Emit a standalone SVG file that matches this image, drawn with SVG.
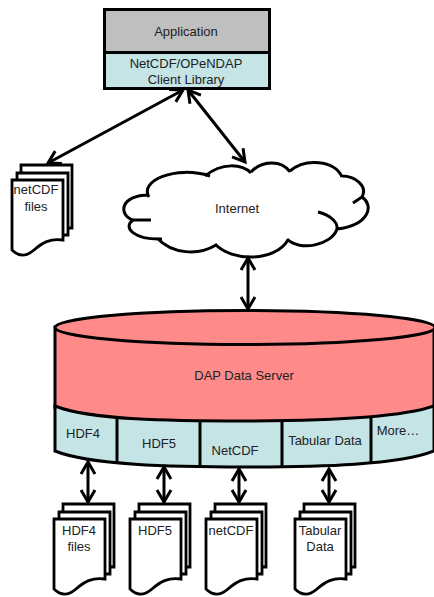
<svg xmlns="http://www.w3.org/2000/svg" width="434" height="597" viewBox="0 0 434 597">
<style>
text{font-family:"Liberation Sans",Arial,sans-serif;font-size:13px;fill:#222;text-anchor:middle}
.s{stroke:#000;stroke-width:3;fill:none}
.d{stroke:#000;stroke-width:2.800;fill:#fff}
.l{stroke:#000;stroke-width:3;fill:none;marker-start:url(#a);marker-end:url(#a)}
</style>
<defs>
<marker id="a" markerUnits="userSpaceOnUse" markerWidth="30" markerHeight="30" refX="17" refY="15" orient="auto-start-reverse" viewBox="0 0 30 30"><path d="M5 8L17 15L5 22" fill="none" stroke="#000" stroke-width="3"/></marker>
<g id="doc"><path class="d" d="M9 -15H60V48H9Z"/><path class="d" d="M5 -7H56V55H5Z"/><path class="d" d="M0 0H51V60C38 58 30 63 22 70C14 77 7 77 0 70Z"/></g>
</defs>
<rect width="434" height="597" fill="#fff"/>
<g id="application"><rect x="104.500" y="9.500" width="165" height="43" fill="#bfbfbf" stroke="#000" stroke-width="3"/><text x="186" y="36">Application</text></g>
<g id="client-library"><rect x="104.500" y="52.500" width="165" height="36" fill="#c4e4e6" stroke="#000" stroke-width="3"/><text x="186" y="68">NetCDF/OPeNDAP</text><text x="186" y="84">Client Library</text></g>
<g id="netcdf-files"><use href="#doc" x="12" y="180"/><text x="36" y="194">netCDF</text><text x="36" y="211">files</text></g>
<g id="internet">
<path d="M148 195C140 180 175 166 205 175C222 162 242 164 251 172C262 160 282 160 290 170C305 158 335 160 342 176C355 176 368 186 362 197C374 205 370 225 337 229C332 245 300 252 287 240C275 262 232 262 215 245C198 256 172 254 157 239C135 240 122 228 133 220C118 215 120 195 148 195Z" fill="#fff"/>
<path class="s" d="M149 197C139 181 175 165 210 176M205 176C222 162 242 164 251 173M251 172C262 160 282 160 290 172M290 171C305 158 335 160 342 177M342 176C355 176 368 186 362 197L353 203M362 197C374 205 370 225 337 229M318 212C330 215 338 222 337 229C332 245 300 252 287 239M288 240C275 262 232 262 215 244M216 245C198 256 172 254 157 238M162 239C135 240 122 228 133 220C138 220 144 220 151 220M133 220C118 215 120 195 149 195"/>
<text x="237" y="213">Internet</text></g>
<g id="dap-server"><path d="M55 327V408C80 428 150 423 240 423C330 423 400 420 434 408V327Z" fill="#ff8a8a" stroke="#000" stroke-width="3"/><ellipse cx="245" cy="327.500" rx="190" ry="17" fill="#ff8a8a" stroke="#000" stroke-width="3"/><text x="244" y="380">DAP Data Server</text></g>
<g id="formats"><path d="M55 406C90 420 170 421 245 421C320 421 400 418 434 406V451C400 465 320 467 245 467C170 467 90 465 55 451Z" fill="#c4e4e6" stroke="#000" stroke-width="3"/></g>
<g id="hdf4"><path class="s" d="M117 417V463"/><text x="83" y="438">HDF4</text></g>
<g id="hdf5"><path class="s" d="M200 421V466"/><text x="159" y="448">HDF5</text></g>
<g id="netcdf"><path class="s" d="M282 421V466"/><text x="235" y="455">NetCDF</text></g>
<g id="tabular"><path class="s" d="M371 418V463"/><text x="325" y="445">Tabular Data</text></g>
<g id="more"><text x="398" y="435">More…</text></g>
<g id="hdf4-files"><use href="#doc" x="54" y="519"/><text x="79" y="535">HDF4</text><text x="79" y="551">files</text></g>
<g id="hdf5-files"><use href="#doc" x="130" y="519"/><text x="155" y="535">HDF5</text></g>
<g id="netcdf-doc"><use href="#doc" x="206" y="519"/><text x="231" y="535">netCDF</text></g>
<g id="tabular-files"><use href="#doc" x="295" y="519"/><text x="320" y="535">Tabular</text><text x="320" y="551">Data</text></g>
<g id="connectors">
<path class="l" d="M183 90L48 163"/>
<path class="l" d="M188 90L245 162"/>
<path class="l" d="M248 258V309"/>
<path class="l" d="M88 462V502"/>
<path class="l" d="M164 467V502"/>
<path class="l" d="M239 469V502"/>
<path class="l" d="M329 469V502"/>
</g>
</svg>
